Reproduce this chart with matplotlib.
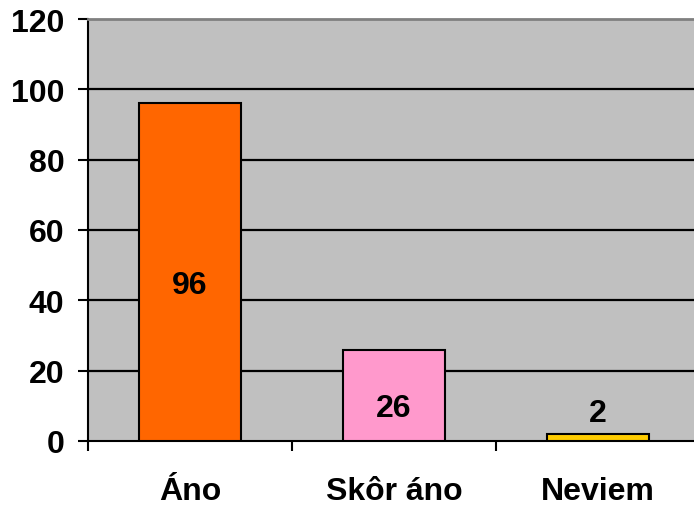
import matplotlib.pyplot as plt

categories = ['Áno', 'Skôr áno', 'Neviem']
values = [96, 26, 2]
colors = ['#FF6600', '#FF99CC', '#FFCC00']
yticks = [0, 20, 40, 60, 80, 100, 120]

plt.rcParams['font.family'] = ['Liberation Sans', 'DejaVu Sans']
plt.rcParams['font.weight'] = 'bold'
fs = 23

fig = plt.figure(figsize=(6.94, 5.06), dpi=100)
ax = fig.add_axes([88 / 694, 64 / 506, 612 / 694, 422 / 506])
ax.set_facecolor('#C0C0C0')

pos = [i + 0.5 for i in range(len(categories))]
ax.bar(pos, values, width=0.5, color=colors, edgecolor='black', linewidth=1.5, zorder=3)

# labels inside bars, small ones above
for x, v in zip(pos, values):
    if v > 10:
        ax.annotate(str(v), (x, v / 2), xytext=(0, -9), textcoords='offset points',
                    ha='center', va='center', fontsize=fs, fontweight='bold', zorder=4)
    else:
        ax.annotate(str(v), (x, v), xytext=(0, 15), textcoords='offset points',
                    ha='center', va='center', fontsize=fs, fontweight='bold', zorder=4)

ax.set_xlim(0, 3)
ax.set_ylim(0, 120)
ax.set_yticks(yticks)
ax.set_yticklabels([str(t) for t in yticks], fontsize=fs, fontweight='bold')
ax.set_xticks([0, 1, 2, 3])
ax.set_xticklabels([])
ax.set_xticks(pos, minor=True)
ax.set_xticklabels(categories, minor=True, fontsize=fs, fontweight='bold')
ax.tick_params(axis='x', which='minor', length=0, pad=25)
ax.tick_params(axis='x', which='major', direction='out', length=7, width=1.5)
ax.tick_params(axis='y', direction='out', length=7, width=1.5, pad=10)

for t in yticks[1:-1]:
    ax.axhline(t, color='black', linewidth=1.6, zorder=1)

ax.spines['left'].set_linewidth(1.5)
ax.spines['bottom'].set_linewidth(1.5)
ax.spines['top'].set_color('#808080')
ax.spines['top'].set_linewidth(2)
ax.spines['right'].set_visible(False)

fig.savefig('out.png', dpi=100)
